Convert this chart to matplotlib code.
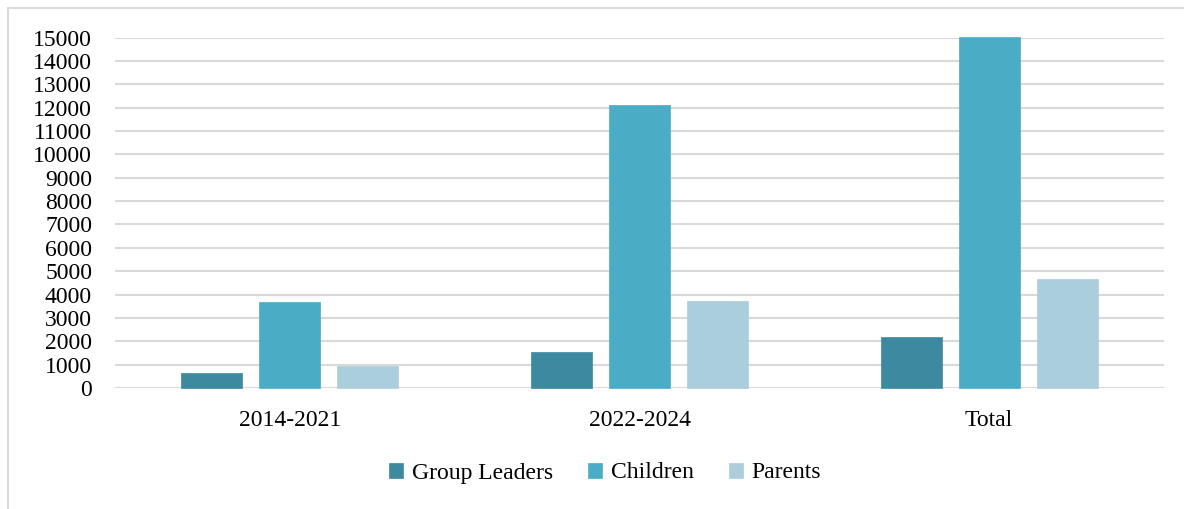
import matplotlib
matplotlib.use("Agg")
import matplotlib.pyplot as plt
from matplotlib.patches import Rectangle
import numpy as np

categories = ["2014-2021", "2022-2024", "Total"]
series_names = ["Group Leaders", "Children", "Parents"]
group_leaders = [650, 1520, 2190]
children = [3660, 12120, 15040]
parents = [940, 3720, 4660]
yticks = list(range(0, 15001, 1000))

colors = ["#3d8aa0", "#4bacc6", "#aacedc"]

plt.rcParams['font.family'] = ['Liberation Serif', 'DejaVu Serif']
FS = 17

fig = plt.figure(figsize=(11.84, 5.09), dpi=100)
ax = fig.add_axes([115/1184, 1-388/509, (1164-115)/1184, (388-37.5)/509])

x = np.arange(len(categories))
width = 0.174
offset = 0.223
for i, (vals, name) in enumerate(zip([group_leaders, children, parents], series_names)):
    ax.bar(x + (i-1)*offset, vals, width, color=colors[i], label=name,
           edgecolor=colors[i], linewidth=0.5, zorder=3, clip_on=False)

ax.set_xlim(-0.5, 2.5)
ax.set_ylim(0, 15000)
ax.set_yticks(yticks)
ax.set_yticklabels([str(t) for t in yticks], fontsize=FS)
ax.set_xticks(x)
ax.set_xticklabels(categories, fontsize=FS)
ax.tick_params(axis='y', length=0, pad=16.5)
ax.tick_params(axis='x', length=0, pad=15.5)
ax.grid(axis='y', color='#d9d9d9', linewidth=1.5, zorder=0)
ax.set_axisbelow(True)
for s in ax.spines.values():
    s.set_visible(False)

leg = fig.legend(loc='center', bbox_to_anchor=(605/1184, 1-473/509), ncol=3,
                 frameon=False, fontsize=FS, handlelength=0.6, handleheight=0.6,
                 handletextpad=0.35, columnspacing=1.5)

fig.patches.append(Rectangle((8/1184, -0.1), 1.2, 1-8/509+0.1, transform=fig.transFigure,
                             fill=False, edgecolor='#d9d9d9', linewidth=1.5))

fig.savefig("out.png", dpi=100)
